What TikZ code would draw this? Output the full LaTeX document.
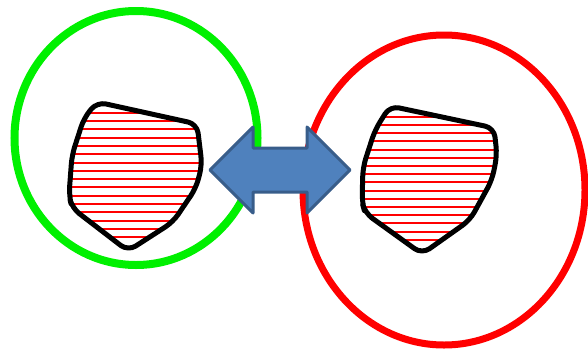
\documentclass[tikz,border=0pt]{standalone}
\begin{document}
\begin{tikzpicture}[x=1pt,y=-1pt,
  blob/.style={draw=black,line width=5pt,line join=round,rounded corners=9pt},
  hatch/.style={draw=red,line width=2pt},
  arrowshape/.style={fill=arrowfill,draw=arrowedge,line width=3pt,line join=round}]
\definecolor{arrowfill}{RGB}{79,129,189}
\definecolor{arrowedge}{RGB}{56,93,138}
\definecolor{ringgreen}{RGB}{0,240,0}
\useasboundingbox (0,0) rectangle (588,351);
% circles
\draw[ringgreen,line width=8pt] (136,138) ellipse [x radius=121.5, y radius=127];
\draw[red,line width=7pt] (444,190) ellipse [x radius=141, y radius=155];
% blob 1
\def\blobA{(97,102) -- (197,124) -- (202,165) -- (196,188) -- (173,222) -- (128,251) -- (72,208) -- (69,195) -- (72,155) -- (84,118) -- cycle}
\begin{scope}
  \clip[rounded corners=9pt] \blobA;
  \foreach \i in {0,...,15} \draw[hatch] (60,112.7+8.3*\i) -- (210,112.7+8.3*\i);
\end{scope}
\draw[blob] \blobA;
% blob 2
\def\blobB{(390,106) -- (494,128) -- (497,155) -- (492,180) -- (470,220) -- (422,254) -- (365,213) -- (362,202) -- (363,167) -- (375,130) -- cycle}
\begin{scope}
  \clip[rounded corners=9pt] \blobB;
  \foreach \i in {0,...,15} \draw[hatch] (355,116.7+8.2*\i) -- (505,116.7+8.2*\i);
\end{scope}
\draw[blob] \blobB;
% double arrow
\draw[arrowshape] (210,170) -- (253,127) -- (253,148) -- (307,148) -- (307,127) -- (350,170) -- (307,213) -- (307,192) -- (253,192) -- (253,213) -- cycle;
\end{tikzpicture}
\end{document}
